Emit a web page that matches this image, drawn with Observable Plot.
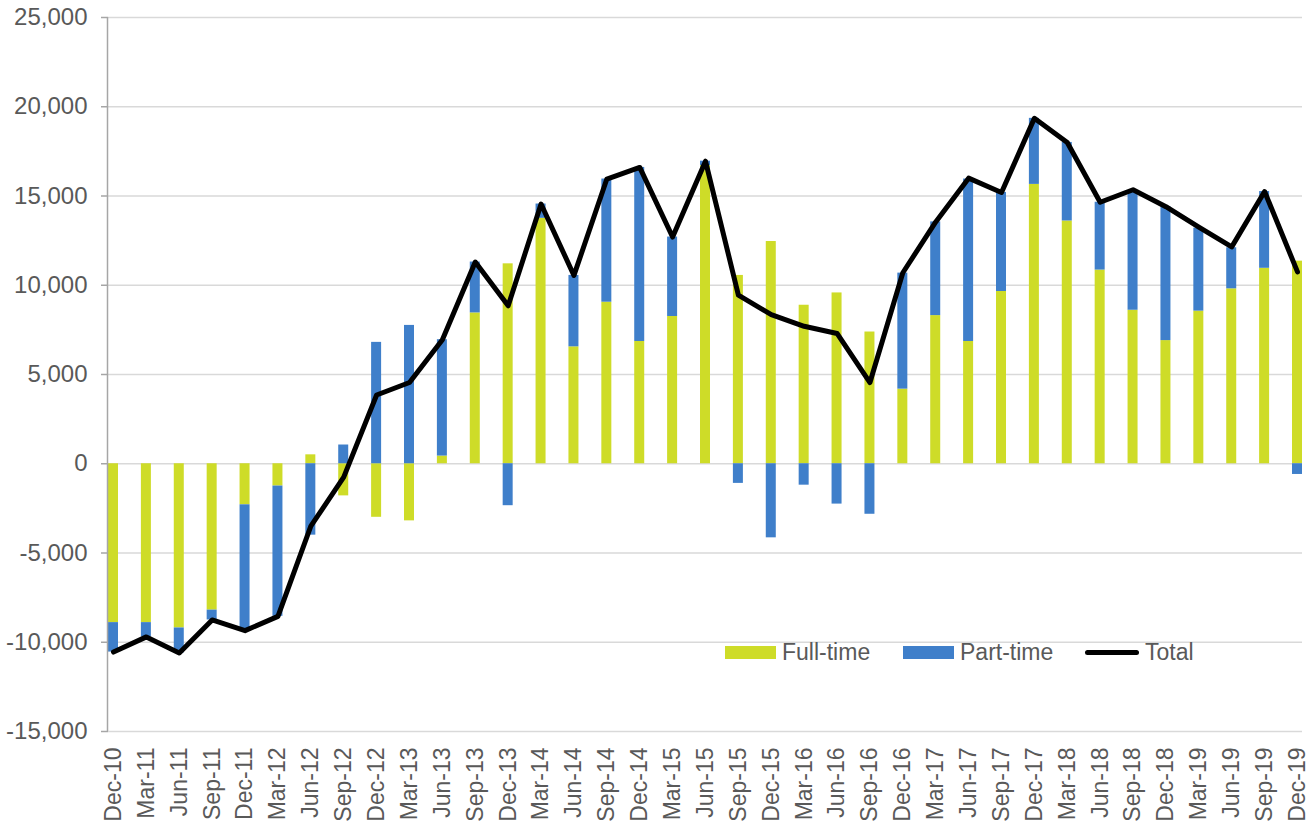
<!DOCTYPE html>
<html>
<head>
<meta charset="utf-8">
<script src="https://cdn.jsdelivr.net/npm/d3@7"></script>
<script src="https://cdn.jsdelivr.net/npm/@observablehq/plot@0.6"></script>
<style>
  html, body { margin: 0; padding: 0; background: #fff; overflow: hidden; }
  #wrap { position: relative; width: 1309px; height: 823px; font-family: "Liberation Sans", Arial, sans-serif; color: #595959; }
  #wrap svg { display: block; }
  .leg { position: absolute; display: flex; align-items: center; height: 24px; font-size: 23px; line-height: 1; white-space: nowrap; }
</style>
</head>
<body>
<div id="wrap"></div>
<script>
const categories = ["Dec-10","Mar-11","Jun-11","Sep-11","Dec-11","Mar-12","Jun-12","Sep-12","Dec-12","Mar-13","Jun-13","Sep-13","Dec-13","Mar-14","Jun-14","Sep-14","Dec-14","Mar-15","Jun-15","Sep-15","Dec-15","Mar-16","Jun-16","Sep-16","Dec-16","Mar-17","Jun-17","Sep-17","Dec-17","Mar-18","Jun-18","Sep-18","Dec-18","Mar-19","Jun-19","Sep-19","Dec-19"];
const fullTime = [-8900,-8900,-9200,-8200,-2300,-1250,500,-1800,-3000,-3200,430,8450,11200,13750,6550,9050,6850,8250,16700,10550,12450,8880,9570,7380,4180,8300,6850,9650,15650,13600,10850,8600,6900,8550,9800,10950,11350];
const partTime = [-1650,-800,-1400,-550,-7000,-7300,-4000,1050,6800,7750,6520,2850,-2350,800,4000,6900,9750,4450,250,-1100,-4150,-1200,-2260,-2830,6500,5250,9100,5550,3700,4400,3800,6700,7500,4650,2300,4300,-600];
const total = [-10550,-9700,-10600,-8750,-9350,-8550,-3500,-750,3850,4550,6950,11300,8850,14550,10550,15950,16600,12700,16950,9450,8350,7700,7300,4550,10700,13550,16000,15200,19350,18000,14650,15350,14400,13250,12150,15250,10750];
const seriesNames = ["Full-time","Part-time","Total"];
const seriesColors = ["#cedc28","#3f7fca","#000000"];
const yTicks = [-15000,-10000,-5000,0,5000,10000,15000,20000,25000];

const bars = [];
categories.forEach((q, i) => {
  bars.push({q, type: seriesNames[0], value: fullTime[i]});
  bars.push({q, type: seriesNames[1], value: partTime[i]});
});
const lineData = categories.map((q, i) => ({q, value: total[i]}));

const chart = Plot.plot({
  width: 1309,
  height: 823,
  marginTop: 17,
  marginBottom: 92,
  marginLeft: 108,
  marginRight: 7,
  style: {fontFamily: "'Liberation Sans', Arial, sans-serif", color: "#595959", background: "white", overflow: "visible"},
  x: {type: "band", domain: categories, paddingInner: 0.696, paddingOuter: 0},
  y: {domain: [-15000, 25000]},
  color: {domain: seriesNames.slice(0, 2), range: seriesColors.slice(0, 2)},
  marks: [
    Plot.gridY(yTicks, {stroke: "#d9d9d9", strokeOpacity: 1, strokeWidth: 1.5}),
    Plot.barY(bars, {x: "q", y: "value", fill: "type"}),
    Plot.lineY(lineData, {x: "q", y: "value", stroke: seriesColors[2], strokeWidth: 5, strokeLinejoin: "round", strokeLinecap: "round"}),
    Plot.axisY(yTicks, {tickSize: 7, tickPadding: 14, stroke: "#a6a6a6", strokeWidth: 1.5, fontSize: 24, label: null, tickFormat: d => d.toLocaleString("en-US")}),
    Plot.axisX({tickSize: 0, tickPadding: 16, tickRotate: -90, fontSize: 23, label: null})
  ]
});

// y axis line
const ys = chart.scale("y");
d3.select(chart).append("line")
  .attr("x1", 107.5).attr("x2", 107.5)
  .attr("y1", ys.range[1]).attr("y2", ys.range[0])
  .attr("stroke", "#a6a6a6").attr("stroke-width", 1.5);

const wrap = document.getElementById("wrap");
wrap.appendChild(chart);

// legend (inside plot area)
function legendItem(left, swatchHtml, label) {
  const d = document.createElement("div");
  d.className = "leg";
  d.style.left = left + "px";
  d.style.top = "640px";
  d.innerHTML = swatchHtml + `<span style="margin-left:6px">${label}</span>`;
  wrap.appendChild(d);
}
legendItem(725, `<span style="display:inline-block;width:51px;height:13px;background:${seriesColors[0]}"></span>`, seriesNames[0]);
legendItem(903, `<span style="display:inline-block;width:51px;height:13px;background:${seriesColors[1]}"></span>`, seriesNames[1]);
legendItem(1085, `<span style="display:inline-block;width:54px;height:5px;border-radius:3px;background:${seriesColors[2]}"></span>`, seriesNames[2]);
</script>
</body>
</html>
